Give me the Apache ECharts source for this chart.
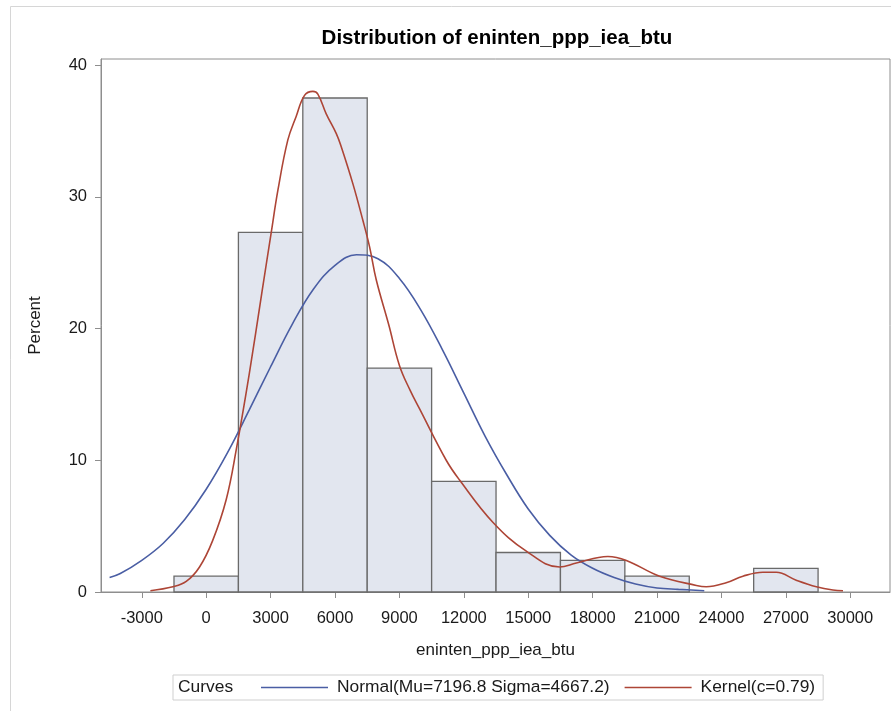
<!DOCTYPE html>
<html>
<head>
<meta charset="utf-8">
<script src="https://cdn.jsdelivr.net/npm/echarts@6/dist/echarts.min.js"></script>
<style>
  html, body { margin: 0; padding: 0; background: #fff; }
  #chart { width: 891px; height: 711px; }
</style>
</head>
<body>
<div id="chart"></div>
<script>
// Histogram bins: midpoints and percent of observations per bin
const binWidth = 3000;
const binMidpoints = [0, 3000, 6000, 9000, 12000, 15000, 18000, 21000, 24000, 27000];
const binPercent = [1.2, 27.3, 37.5, 17.0, 8.4, 3.0, 2.4, 1.2, 0, 1.8];

// Fitted normal curve (percent scale)
const normalX = [-4500, -4000, -3000, -2000, -1000, 0, 1000, 2000, 3000, 4000, 5000, 6000, 7000,
  8000, 9000, 10000, 11000, 12000, 13000, 14000, 15000, 16000, 17000, 18000, 19000, 20000,
  21000, 22000, 23200];
const normalY = [1.1, 1.4, 2.4, 3.7, 5.5, 7.8, 10.6, 13.8, 17.1, 20.3, 23.0, 24.8, 25.6,
  25.3, 23.8, 21.4, 18.4, 15.1, 11.8, 8.9, 6.3, 4.3, 2.8, 1.8, 1.1, 0.6,
  0.3, 0.2, 0.1];

// Kernel density estimate (percent scale)
const kernelX = [-2600, -1550, -930, -310, 300, 930, 1400, 2000, 2600, 3030, 3340, 3800, 4190,
  4580, 4970, 5200, 5590, 6060, 6290, 6830, 7300, 7610, 7920, 8500, 9000, 9500, 9940,
  11180, 11800, 13350, 14910, 16460, 17240, 18710, 19570, 21120, 22830, 23290, 24220,
  25000, 25930, 26550, 27480, 28420, 29190, 29660];
const kernelY = [0.1, 0.4, 0.8, 1.9, 3.9, 7.0, 10.8, 16.5, 22.8, 27.3, 30.5, 34.3, 36.1,
  37.7, 38.0, 37.8, 36.3, 34.8, 33.8, 31.0, 28.2, 26.2, 23.7, 20.3, 17.2, 15.3, 13.9,
  10.0, 8.5, 5.3, 3.1, 1.9, 2.2, 2.7, 2.4, 1.2, 0.5, 0.4, 0.7,
  1.2, 1.5, 1.5, 0.9, 0.4, 0.15, 0.1];

const xTicks = [-3000, 0, 3000, 6000, 9000, 12000, 15000, 18000, 21000, 24000, 27000, 30000];
const yTicks = [0, 10, 20, 30, 40];

const titleText = 'Distribution of eninten_ppp_iea_btu';
const xName = 'eninten_ppp_iea_btu';
const yName = 'Percent';
const normalName = 'Normal(Mu=7196.8 Sigma=4667.2)';
const kernelName = 'Kernel(c=0.79)';

const FONT = '"Liberation Sans", Arial, sans-serif';
const axisColor = '#8e8e8e';
const textColor = '#1a1a1a';

const chart = echarts.init(document.getElementById('chart'), null, { renderer: 'canvas' });

const bars = binMidpoints.map((m, i) => [m, binPercent[i]]);
const normalData = normalX.map((x, i) => [x, normalY[i]]);
const kernelData = kernelX.map((x, i) => [x, kernelY[i]]);

chart.setOption({
  backgroundColor: '#ffffff',
  animation: false,
  textStyle: { fontFamily: FONT },
  title: {
    text: titleText,
    left: 492,
    top: 23,
    textAlign: 'center',
    textStyle: { fontFamily: FONT, fontSize: 20.5, fontWeight: 'bold', color: '#000' }
  },
  grid: {
    left: 101, top: 59, right: 1, bottom: 119,
    show: true, borderColor: axisColor, borderWidth: 1, backgroundColor: 'transparent'
  },
  xAxis: {
    type: 'value',
    min: -4900, max: 31850,
    name: xName,
    nameLocation: 'middle',
    nameGap: 50,
    nameTextStyle: { fontFamily: FONT, fontSize: 17, color: textColor },
    axisLine: { show: true, onZero: false, lineStyle: { color: axisColor, width: 1 } },
    axisTick: { show: true, length: 6, lineStyle: { color: axisColor }, customValues: xTicks },
    axisLabel: {
      customValues: xTicks, margin: 18, fontFamily: FONT, fontSize: 16.5, color: textColor,
      formatter: (v) => String(v)
    },
    splitLine: { show: false }
  },
  yAxis: {
    type: 'value',
    min: 0, max: 40.46,
    name: yName,
    nameLocation: 'middle',
    nameGap: 57,
    nameTextStyle: { fontFamily: FONT, fontSize: 17, color: textColor },
    axisLine: { show: true, onZero: false, lineStyle: { color: axisColor, width: 1 } },
    axisTick: { show: true, length: 6, lineStyle: { color: axisColor }, customValues: yTicks },
    axisLabel: {
      customValues: yTicks, margin: 14, fontFamily: FONT, fontSize: 16.5, color: textColor,
      formatter: (v) => String(v)
    },
    splitLine: { show: false }
  },
  legend: {
    left: 173,
    top: 675,
    orient: 'horizontal',
    padding: [4, 8, 4, 88],
    itemWidth: 67,
    itemHeight: 1.5,
    itemGap: 15,
    icon: 'rect',
    borderColor: '#cfcfcf',
    borderWidth: 1,
    selectedMode: false,
    textStyle: { fontFamily: FONT, fontSize: 17.4, color: textColor, padding: [0, 0, 0, 4] },
    data: [normalName, kernelName]
  },
  graphic: [
    {
      type: 'rect',
      silent: true,
      shape: { x: 10.5, y: 6.5, width: 1000, height: 1000 },
      style: { fill: 'none', stroke: '#d6d6d6', lineWidth: 1 },
      z: -10
    },
    {
      type: 'text',
      silent: true,
      left: 178,
      top: 679,
      style: { text: 'Curves', font: '17.4px ' + FONT, fill: textColor }
    }
  ],
  series: [
    {
      type: 'custom',
      name: 'Histogram',
      data: bars,
      encode: { x: 0, y: 1 },
      z: 1,
      renderItem: function (params, api) {
        const mid = api.value(0);
        const v = api.value(1);
        if (!v) return null;
        const p0 = api.coord([mid - binWidth / 2, v]);
        const p1 = api.coord([mid + binWidth / 2, 0]);
        return {
          type: 'rect',
          shape: { x: p0[0], y: p0[1], width: p1[0] - p0[0], height: p1[1] - p0[1] },
          style: { fill: '#e2e6ef', stroke: '#6a6a6a', lineWidth: 1.3 }
        };
      }
    },
    {
      type: 'line',
      name: normalName,
      data: normalData,
      smooth: 0.4,
      showSymbol: false,
      z: 3,
      lineStyle: { color: '#4a5ea4', width: 1.6 },
      itemStyle: { color: '#4a5ea4' }
    },
    {
      type: 'line',
      name: kernelName,
      data: kernelData,
      smooth: 0.4,
      showSymbol: false,
      z: 4,
      lineStyle: { color: '#ad4536', width: 1.6 },
      itemStyle: { color: '#ad4536' }
    }
  ]
});
</script>
</body>
</html>
